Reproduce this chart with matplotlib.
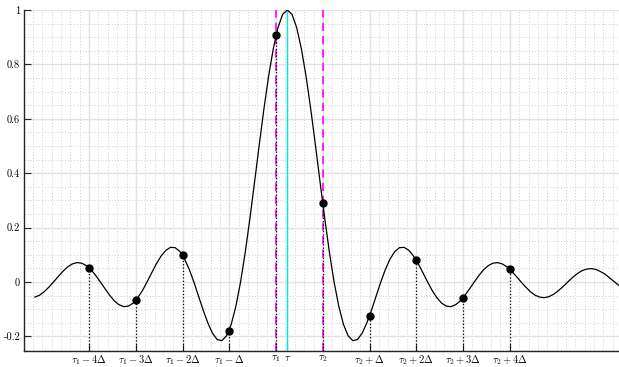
import numpy as np
import matplotlib
matplotlib.use('Agg')
import matplotlib.pyplot as plt

plt.rcParams['mathtext.fontset'] = 'cm'

# positions in units of Delta, relative to tau
tau = 0.0
tau1 = -0.24
tau2 = 0.76
x_start, x_step = -5.4, 0.1
curve_y = [-0.056, -0.049, -0.036, -0.019, 0.000, 0.020, 0.039, 0.055, 0.066, 0.071,
           0.069, 0.060, 0.045, 0.024, 0.000, -0.025, -0.049, -0.070, -0.084, -0.091,
           -0.089, -0.078, -0.058, -0.032, 0.000, 0.034, 0.067, 0.095, 0.116, 0.127,
           0.126, 0.112, 0.085, 0.047, 0.000, -0.052, -0.104, -0.151, -0.189, -0.212,
           -0.216, -0.198, -0.156, -0.089, 0.000, 0.109, 0.234, 0.368, 0.505, 0.637,
           0.757, 0.858, 0.935, 0.984, 1.000, 0.984, 0.935, 0.858, 0.757, 0.637,
           0.505, 0.368, 0.234, 0.109, 0.000, -0.089, -0.156, -0.198, -0.216, -0.212,
           -0.189, -0.151, -0.104, -0.052, 0.000, 0.047, 0.085, 0.112, 0.126, 0.127,
           0.116, 0.095, 0.067, 0.034, 0.000, -0.032, -0.058, -0.078, -0.089, -0.091,
           -0.084, -0.070, -0.049, -0.025, 0.000, 0.024, 0.045, 0.060, 0.069, 0.071,
           0.066, 0.055, 0.039, 0.020, 0.000, -0.019, -0.036, -0.049, -0.056, -0.058,
           -0.054, -0.045, -0.032, -0.017, 0.000, 0.016, 0.030, 0.041, 0.047, 0.049,
           0.046, 0.038, 0.028, 0.014, 0.000, -0.014]
point_offsets = [-4, -3, -2, -1, 0, 0, 1, 2, 3, 4]
point_bases = ['tau1', 'tau1', 'tau1', 'tau1', 'tau1', 'tau2', 'tau2', 'tau2', 'tau2', 'tau2']
point_y = [0.052, -0.067, 0.098, -0.179, 0.907, 0.290, -0.127, 0.079, -0.059, 0.047]

xtick_labels = [r'$\tau_1-4\Delta$', r'$\tau_1-3\Delta$', r'$\tau_1-2\Delta$', r'$\tau_1-\Delta$',
                r'$\tau_1$', r'$\tau$', r'$\tau_2$', r'$\tau_2+\Delta$', r'$\tau_2+2\Delta$',
                r'$\tau_2+3\Delta$', r'$\tau_2+4\Delta$']
ytick_pos = [-0.2, 0, 0.2, 0.4, 0.6, 0.8, 1]
ytick_labels = ['-0.2', '0', '0.2', '0.4', '0.6', '0.8', '1']

base = {'tau1': tau1, 'tau2': tau2}
x = x_start + x_step * np.arange(len(curve_y))
px = np.array([base[b] + o for b, o in zip(point_bases, point_offsets)])
py = np.array(point_y)
xtick_pos = [tau1 - 4, tau1 - 3, tau1 - 2, tau1 - 1, tau1, tau, tau2, tau2 + 1, tau2 + 2, tau2 + 3, tau2 + 4]

fig = plt.figure(figsize=(6.19, 3.67), dpi=100)
ax = fig.add_axes([0.0393, 0.0444, 0.9607, 0.9284])
ymin, ymax = -0.253, 1.0
ax.set_xlim(-5.626, 7.095)
ax.set_ylim(ymin, ymax)

ax.set_xticks(xtick_pos)
ax.set_xticklabels(xtick_labels)
ax.set_yticks(ytick_pos)
ax.set_yticklabels(ytick_labels)
for lbl in ax.get_yticklabels():
    lbl.set_fontfamily('cmr10')
ax.set_xticks(tau1 + 0.2 * np.arange(-26, 37), minor=True)
ax.set_yticks(np.arange(-0.25, 1.0001, 0.05), minor=True)

ax.set_axisbelow(True)
ax.grid(which='major', color='#e2e2e2', lw=1.0)
ax.grid(which='minor', color='#cfcfcf', ls=(0, (1, 2)), lw=0.7)
ax.tick_params(which='major', direction='in', length=5, width=0.8, color='#262626', labelsize=7.5)
ax.tick_params(axis='x', which='major', pad=2)
ax.tick_params(axis='y', which='major', pad=3)
ax.tick_params(which='minor', length=0)
for s in ['top', 'right']:
    ax.spines[s].set_visible(False)
for s in ['left', 'bottom']:
    ax.spines[s].set_color('#262626')
    ax.spines[s].set_linewidth(1.0)

ax.axvline(tau, color='#00e5e5', lw=1.0, zorder=2)
for t in [tau1, tau2]:
    ax.axvline(t, color='#ff00ff', ls=(0, (5, 3)), lw=1.2, zorder=2)
ax.plot(x, curve_y, color='k', lw=0.9, zorder=3)
ax.vlines(px, ymin, py, colors='k', linestyles=':', lw=0.9, zorder=3)
ax.plot(px, py, 'o', color='k', ms=5, zorder=4)

fig.savefig('out.png', dpi=100)
